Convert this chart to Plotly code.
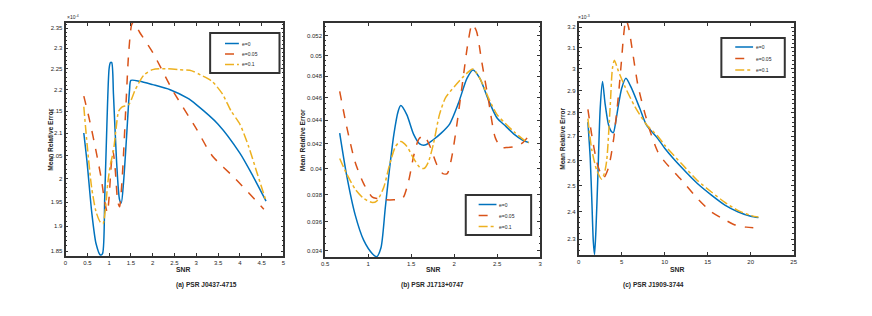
import math
import plotly.graph_objects as go

# ---------------- data ----------------
# (a) PSR J0437-4715, values in units of 1e-4
snr_a_e0 = [0.42, 0.5, 0.6, 0.7, 0.8, 0.85, 0.9, 0.95, 1.0, 1.03, 1.06, 1.1, 1.17, 1.24, 1.28, 1.33, 1.4, 1.47, 1.5,
            1.7, 2.0, 2.4, 2.8, 3.0, 3.5, 4.0, 4.3, 4.6]
err_a_e0 = [2.10, 2.03, 1.93, 1.865, 1.842, 1.845, 1.96, 2.12, 2.25, 2.265, 2.265, 2.19, 2.04, 1.955, 1.948, 1.99, 2.09, 2.2, 2.222,
            2.22, 2.212, 2.2, 2.18, 2.165, 2.12, 2.055, 2.005, 1.952]
snr_a_e005 = [0.42, 0.55, 0.7, 0.82, 0.9, 0.96, 1.0, 1.05, 1.09, 1.14, 1.2, 1.24, 1.3, 1.38, 1.45, 1.52, 1.56, 1.7,
              2.0, 2.45, 3.0, 3.36, 3.89, 4.55]
err_a_e005 = [2.185, 2.13, 2.06, 2.0, 1.95, 1.928, 1.96, 2.03, 2.06, 2.02, 1.95, 1.94, 2.0, 2.15, 2.29, 2.36, 2.365, 2.34,
              2.29, 2.2, 2.11, 2.05, 2.0, 1.935]
snr_a_e01 = [0.42, 0.5, 0.6, 0.7, 0.8, 0.86, 0.92, 0.97, 1.03, 1.1, 1.16, 1.22, 1.3, 1.45, 1.6, 1.8, 2.0, 2.3, 2.6, 2.9,
             3.1, 3.36, 3.6, 3.8, 4.0, 4.2, 4.4, 4.6]
err_a_e01 = [2.16, 2.07, 1.98, 1.93, 1.908, 1.905, 1.94, 1.99, 2.03, 2.06, 2.11, 2.15, 2.16, 2.165, 2.2, 2.235, 2.248, 2.25,
             2.248, 2.245, 2.235, 2.22, 2.19, 2.15, 2.12, 2.07, 2.01, 1.952]

# (b) PSR J1713+0747
snr_b_e0 = [0.67, 0.75, 0.85, 0.95, 1.05, 1.1, 1.15, 1.2, 1.25, 1.3, 1.35, 1.38, 1.45, 1.53, 1.6, 1.66, 1.75, 1.85,
            1.95, 2.05, 2.15, 2.22, 2.3, 2.4, 2.5, 2.6, 2.7, 2.8, 2.87]
err_b_e0 = [0.0429, 0.0395, 0.0365, 0.0347, 0.0338, 0.0336, 0.0342, 0.0370, 0.0400, 0.0428, 0.0448, 0.0453, 0.0445,
            0.0428, 0.0420, 0.0419, 0.0423, 0.0429, 0.0437, 0.0455, 0.0478, 0.0486, 0.0478, 0.0458, 0.0442, 0.0435,
            0.0428, 0.0423, 0.0421]
snr_b_e005 = [0.67, 0.75, 0.85, 0.95, 1.05, 1.1, 1.2, 1.3, 1.4, 1.47, 1.53, 1.59, 1.65, 1.72, 1.8, 1.87, 1.92, 1.97,
              2.03, 2.1, 2.16, 2.21, 2.26, 2.32, 2.4, 2.48, 2.55, 2.62, 2.72, 2.8, 2.87]
err_b_e005 = [0.0466, 0.0435, 0.0405, 0.0388, 0.0378, 0.0377, 0.0376, 0.0376, 0.0377, 0.0390, 0.0410, 0.0424, 0.0427,
              0.0418, 0.0403, 0.0396, 0.0396, 0.0408, 0.0435, 0.0475, 0.0512, 0.0532, 0.0525, 0.0495, 0.0458, 0.0425,
              0.0417, 0.0417, 0.0418, 0.0421, 0.0427]
snr_b_e01 = [0.67, 0.75, 0.85, 0.95, 1.05, 1.1, 1.18, 1.25, 1.32, 1.38, 1.45, 1.53, 1.6, 1.65, 1.7, 1.76, 1.83, 1.9,
             2.0, 2.1, 2.22, 2.3, 2.4, 2.5, 2.6, 2.7, 2.8, 2.87]
err_b_e01 = [0.0408, 0.0396, 0.0384, 0.0377, 0.0374, 0.0375, 0.0385, 0.0403, 0.0418, 0.0422, 0.0418, 0.0408, 0.0401,
             0.0400, 0.0405, 0.0420, 0.0445, 0.0460, 0.0470, 0.0479, 0.0487, 0.0478, 0.0460, 0.0445, 0.0437, 0.0430,
             0.0424, 0.0421]

# (c) PSR J1909-3744, values in units of 1e-3
snr_c_e0 = [1.07, 1.2, 1.34, 1.54, 1.7, 1.84, 2.0, 2.23, 2.5, 2.77, 3.07, 3.46, 3.8, 4.03, 4.3, 4.6, 5.0, 5.49, 6.14,
            7.1, 7.87, 9.2, 10, 12, 13.8, 15.4, 17, 18.5, 20, 20.9]
err_c_e0 = [2.76, 2.69, 2.61, 2.43, 2.29, 2.245, 2.33, 2.54, 2.82, 2.94, 2.84, 2.75, 2.72, 2.715, 2.76, 2.83, 2.91,
            2.955, 2.91, 2.82, 2.748, 2.69, 2.65, 2.57, 2.508, 2.464, 2.425, 2.40, 2.383, 2.378]
snr_c_e005 = [1.07, 1.54, 2.0, 2.3, 2.88, 3.46, 4.03, 4.6, 5.0, 5.2, 5.49, 5.8, 6.3, 6.9, 7.68, 8.4, 9.2, 10, 12, 13.8,
              15.4, 17, 18.1, 19.5, 20.9]
err_c_e005 = [2.815, 2.70, 2.61, 2.57, 2.53, 2.57, 2.68, 2.87, 3.05, 3.15, 3.24, 3.2, 3.07, 2.92, 2.80, 2.71, 2.635,
              2.595, 2.52, 2.45, 2.40, 2.37, 2.352, 2.343, 2.340]
snr_c_e01 = [1.07, 1.3, 1.54, 2.1, 2.68, 3.0, 3.26, 3.65, 3.92, 4.15, 4.6, 5.4, 6.5, 7.87, 9.2, 10, 12, 13.8, 15.4, 17,
             18.5, 20, 20.9]
err_c_e01 = [2.775, 2.70, 2.64, 2.56, 2.525, 2.55, 2.60, 2.82, 3.0, 3.04, 2.99, 2.915, 2.83, 2.75, 2.70, 2.662, 2.585,
             2.52, 2.476, 2.435, 2.405, 2.386, 2.38]

series_names = ["e=0", "e=0.05", "e=0.1"]
panel_titles = ["(a) PSR J0437-4715", "(b) PSR J1713+0747", "(c) PSR J1909-3744"]

yticks_a = [1.85, 1.9, 1.95, 2, 2.05, 2.1, 2.15, 2.2, 2.25, 2.3, 2.35]
yticktext_a = ["1.85", "1.9", "1.95", "2", "2.05", "2.1", "2.15", "2.2", "2.25", "2.3", "2.35"]
yticks_b = [0.034, 0.036, 0.038, 0.04, 0.042, 0.044, 0.046, 0.048, 0.05, 0.052]
yticktext_b = ["0.034", "0.036", "0.038", "0.04", "0.042", "0.044", "0.046", "0.048", "0.05", "0.052"]
yticks_c = [2.3, 2.4, 2.5, 2.6, 2.7, 2.8, 2.9, 3, 3.1, 3.2]
yticktext_c = ["2.3", "2.4", "2.5", "2.6", "2.7", "2.8", "2.9", "3", "3.1", "3.2"]

# ---------------- styling ----------------
OFF = 8                      # page body margin offset
W, H = 872 - OFF, 316 - OFF
colors = ["#0072BD", "#D95319", "#EDB120"]
dashes = ["solid", "dash", "dashdot"]
FONT = "Liberation Sans, Arial, sans-serif"
AX = "#333333"
TXT = "#262626"


def px_x(v):
    return (v - OFF) / W


def px_y(v):
    return 1 - (v - OFF) / H


fig = go.Figure()

panels = [
    (snr_a_e0, err_a_e0, snr_a_e005, err_a_e005, snr_a_e01, err_a_e01),
    (snr_b_e0, err_b_e0, snr_b_e005, err_b_e005, snr_b_e01, err_b_e01),
    (snr_c_e0, err_c_e0, snr_c_e005, err_c_e005, snr_c_e01, err_c_e01),
]
for p, data in enumerate(panels):
    xa = "x" if p == 0 else f"x{p+1}"
    ya = "y" if p == 0 else f"y{p+1}"
    for k in range(3):
        fig.add_trace(go.Scatter(
            x=data[2 * k], y=data[2 * k + 1], mode="lines", name=series_names[k],
            line=dict(color=colors[k], width=1.5, dash=dashes[k], shape="spline", smoothing=0.7),
            xaxis=xa, yaxis=ya, showlegend=False))

boxes = [(62, 282, 23, 256), (324, 541, 23, 257), (580, 797, 23, 255)]
xranges = [[0, 5], [0.5, 3], [0, 25]]
xdticks = [0.5, 0.5, 5]
yranges = [[math.log10(1.8401), math.log10(2.3634)],
           [math.log10(0.03358), math.log10(0.05334)],
           [math.log10(2.2433), math.log10(3.2215)]]
ytv = [(yticks_a, yticktext_a, "L0.01"), (yticks_b, yticktext_b, "L0.0005"), (yticks_c, yticktext_c, "L0.02")]

layout = dict(width=W, height=H, margin=dict(l=0, r=0, t=0, b=0),
              paper_bgcolor="white", plot_bgcolor="white", showlegend=False,
              font=dict(family=FONT, size=6, color=TXT))

for p in range(3):
    l, r, t, b = boxes[p]
    xk = "xaxis" if p == 0 else f"xaxis{p+1}"
    yk = "yaxis" if p == 0 else f"yaxis{p+1}"
    anchor_y = "y" if p == 0 else f"y{p+1}"
    anchor_x = "x" if p == 0 else f"x{p+1}"
    layout[xk] = dict(domain=[px_x(l), px_x(r)], anchor=anchor_y, range=xranges[p], dtick=xdticks[p],
                      tick0=0, ticks="inside", ticklen=3, tickwidth=1, tickcolor=AX, showline=True,
                      linecolor=AX, linewidth=1.8, mirror="allticks", showgrid=False, zeroline=False,
                      tickfont=dict(size=6, color=TXT))
    tv, tt, mdt = ytv[p]
    layout[yk] = dict(domain=[px_y(b), px_y(t)], anchor=anchor_x, type="log", range=yranges[p],
                      tickvals=tv, ticktext=tt, ticks="inside", ticklen=3, tickwidth=1, tickcolor=AX,
                      showline=True, linecolor=AX, linewidth=1.8, mirror="allticks", showgrid=False,
                      zeroline=False, tickfont=dict(size=6, color=TXT),
                      minor=dict(dtick=mdt, ticks="inside", ticklen=1.5, tickcolor=AX, showgrid=False))

fig.update_layout(**layout)

# ---- legends drawn as boxes with sample lines ----
legends = [
    (208, 278, 33, 73, 223, 237, [43.5, 54, 64.5]),
    (466, 532, 195, 235, 479, 497, [204.5, 215.5, 226.5]),
    (724, 788, 38, 77, 738, 756, [47, 58.5, 70]),
]
shapes = []
annotations = []
for (bl, br, bt, bb, lx0, lx1, ys) in legends:
    shapes.append(dict(type="rect", xref="paper", yref="paper", x0=px_x(bl), x1=px_x(br), y0=px_y(bb),
                       y1=px_y(bt), line=dict(color=AX, width=2), fillcolor="white", layer="above"))
    for k in range(3):
        shapes.append(dict(type="line", xref="paper", yref="paper", x0=px_x(lx0), x1=px_x(lx1),
                           y0=px_y(ys[k]), y1=px_y(ys[k]), layer="above",
                           line=dict(color=colors[k], width=1.5, dash=dashes[k])))
        annotations.append(dict(text=series_names[k], x=px_x(lx1 + 1), y=px_y(ys[k]), xref="paper",
                                yref="paper", xanchor="left", yanchor="middle", showarrow=False,
                                font=dict(size=5, family=FONT, color=TXT)))

for p in range(3):
    l, r, t, b = boxes[p]
    cx = (l + r) / 2
    annotations.append(dict(text="<b>SNR</b>", x=px_x(cx), y=px_y(275), xref="paper", yref="paper",
                            showarrow=False, font=dict(size=6.8, family=FONT, color=TXT)))
    annotations.append(dict(text="<b>" + panel_titles[p] + "</b>", x=px_x(cx), y=px_y(291), xref="paper",
                            yref="paper", showarrow=False, font=dict(size=6.6, family=FONT, color=TXT)))
ylab_x = [41, 301, 563]
for p in range(3):
    l, r, t, b = boxes[p]
    annotations.append(dict(text="<b>Mean Relative Error</b>", x=px_x(ylab_x[p]), y=px_y((t + b) / 2),
                            xref="paper", yref="paper", showarrow=False, textangle=-90,
                            font=dict(size=6.6, family=FONT, color=TXT)))
annotations.append(dict(text="×10<sup>-4</sup>", x=px_x(61), y=px_y(22), xref="paper", yref="paper",
                        xanchor="left", yanchor="bottom", showarrow=False,
                        font=dict(size=5, family=FONT, color=TXT)))
annotations.append(dict(text="×10<sup>-3</sup>", x=px_x(577), y=px_y(22), xref="paper", yref="paper",
                        xanchor="left", yanchor="bottom", showarrow=False,
                        font=dict(size=5, family=FONT, color=TXT)))
fig.update_layout(annotations=annotations, shapes=shapes)

fig.write_html("out.html")
